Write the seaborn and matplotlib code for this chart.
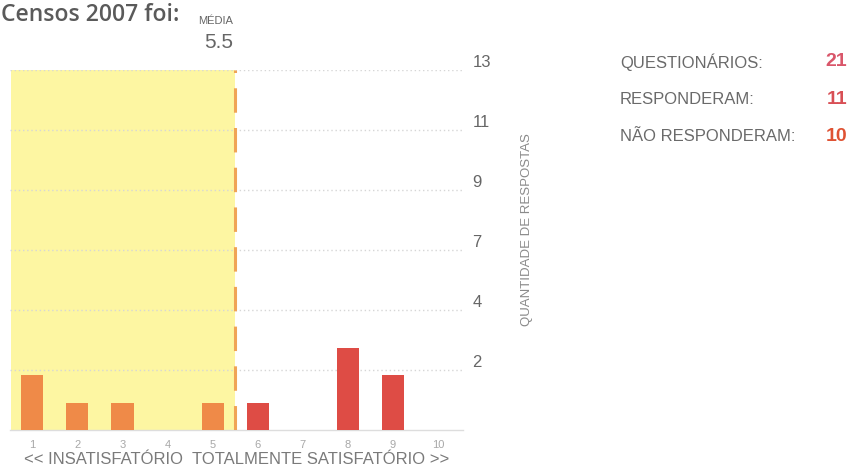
import matplotlib
matplotlib.use("Agg")
import matplotlib.pyplot as plt
import seaborn as sns
import pandas as pd

# Survey data: satisfaction scores 1-10 and number of answers per score
notas = [1, 2, 3, 4, 5, 6, 7, 8, 9, 10]
respostas = [2, 1, 1, 0, 1, 1, 0, 3, 2, 0]
media = 5.5

y_tick_labels = ["2", "4", "7", "9", "11", "13"]
y_tick_values = [2.2, 4.4, 6.6, 8.8, 11.0, 13.2]

resumo_rotulos = ["QUESTIONÁRIOS:", "RESPONDERAM:", "NÃO RESPONDERAM:"]
resumo_valores = [21, 11, 10]

titulo = "Censos 2007 foi:"
xlabel = "<< INSATISFATÓRIO  TOTALMENTE SATISFATÓRIO >>"

sns.set_theme(style="white")
plt.rcParams["font.family"] = ["Liberation Sans", "DejaVu Sans"]

df = pd.DataFrame({"nota": notas, "respostas": respostas})
df["faixa"] = ["baixa" if n <= 5 else "alta" for n in notas]

fig = plt.figure(figsize=(8.53, 4.71), dpi=100)
ax = fig.add_axes([9.8 / 853, 41 / 471, (462.7 - 9.8) / 853, 360 / 471])

# shaded region below the mean
ax.axvspan(0.53, media, color="#fdf6a2", zorder=0, lw=0)

sns.barplot(data=df, x="nota", y="respostas", hue="faixa", native_scale=True,
            palette={"baixa": "#ef8a48", "alta": "#de4c45"}, width=0.49,
            dodge=False, legend=False, ax=ax, zorder=3, saturation=1,
            linewidth=0, edgecolor="none")

ax.axvline(media, color="#f0a456", lw=2.2, dashes=(8, 5), zorder=4)

ax.set_xlim(0.5, 10.55)
ax.set_ylim(0, 13.2)

# axes styling
for s in ["top", "left", "right"]:
    ax.spines[s].set_visible(False)
ax.spines["bottom"].set_color("#dddddd")
ax.spines["bottom"].set_linewidth(1.0)

ax.set_xticks(notas)
ax.set_xticklabels([str(n) for n in notas], fontsize=8, color="#a8a8a8")
ax.tick_params(axis="x", length=0, pad=7)

ax.yaxis.tick_right()
ax.set_yticks(y_tick_values)
ax.set_yticklabels(y_tick_labels, fontsize=12, color="#666666")
ax.tick_params(axis="y", length=0, pad=7)
for t in ax.get_yticklabels():
    t.set_va("bottom")
ax.grid(axis="y", color="#d6d6d6", linestyle=(0, (1, 2)), lw=1.0, zorder=1)
ax.set_axisbelow(True)

ax.set_xlabel(xlabel, fontsize=12, color="#7a7a7a", labelpad=2)
ax.set_ylabel("")

fig.text(527 / 853, 1 - 230 / 471, "QUANTIDADE DE RESPOSTAS", rotation=90,
         ha="center", va="center", fontsize=9.5, color="#8a8a8a")

# header
fig.text(1 / 853, 1 - 21 / 471, titulo, fontsize=16.5, color="#5a5a5a",
         ha="left", va="baseline", family=["Open Sans", "DejaVu Sans"],
         fontweight="semibold")
fig.text(233 / 853, 1 - 24 / 471, "MÉDIA", fontsize=8, color="#666666",
         ha="right", va="baseline")
fig.text(233 / 853, 1 - 48 / 471, f"{media}", fontsize=15, color="#666666",
         ha="right", va="baseline")

# summary on the right
linhas_y = [62, 99, 137]
cores_valores = ["#d9566a", "#d84f55", "#df5233"]
for rot, val, yy, cor in zip(resumo_rotulos, resumo_valores, linhas_y, cores_valores):
    fig.text(620 / 853, 1 - yy / 471, rot, fontsize=12, color="#6a6a6a",
             ha="left", va="center")
    fig.text(847 / 853, 1 - yy / 471, str(val), fontsize=14, color=cor,
             ha="right", va="center", fontweight="bold")

fig.savefig("out.png", dpi=100)
